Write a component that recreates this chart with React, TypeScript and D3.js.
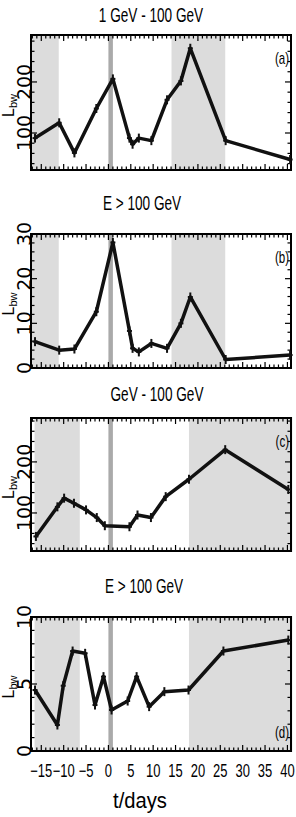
import React from 'react';
import * as d3 from 'd3';

// time of each observation (days)
const tAB = [-16.4, -11.0, -7.6, -2.7, 1.0, 4.7, 5.4, 6.8, 9.6, 13.1, 16.2, 18.3, 26.2, 40.6];
const tC = [-16.2, -11.4, -9.9, -7.7, -5.0, -2.6, -0.8, 4.7, 6.5, 9.5, 12.8, 18.0, 26.1, 40.2];
const tD = [-16.4, -11.4, -10.1, -8.0, -5.2, -3.0, -1.1, 0.7, 4.3, 6.3, 9.1, 12.5, 17.9, 25.7, 40.2];

// L_bw values
const lumA = [90, 120, 61, 148, 206, 90, 78, 90, 85, 165, 202, 266, 85, 48];
const lumB = [5.9, 4.0, 4.25, 12.6, 28.1, 8.3, 4.4, 3.6, 5.5, 4.4, 10.0, 15.9, 1.9, 2.9];
const lumC = [54, 112, 129, 119, 106, 91, 75, 73, 96, 91, 132, 166, 224, 146];
const lumD = [4.55, 1.94, 4.87, 7.46, 7.29, 3.43, 5.55, 3.06, 3.73, 5.55, 3.31, 4.43, 4.55, 7.46, 8.28];

// shaded intervals (days)
const bandsAB: [number, number][] = [[-17.3, -11.1], [14.1, 26.1]];
const bandsCD: [number, number][] = [[-16.5, -6.4], [18.0, 41.1]];
const flareBand: [number, number] = [0, 1];

const titles = ['1 GeV - 100 GeV', 'E > 100 GeV', 'GeV - 100 GeV', 'E > 100 GeV'];
const panelTags = ['(a)', '(b)', '(c)', '(d)'];
const xTickLabels = [-15, -10, -5, 0, 5, 10, 15, 20, 25, 30, 35, 40];

const W = 296;
const H = 817;
const sans = '"Liberation Sans", Arial, sans-serif';
const wide = '"DejaVu Sans", sans-serif';

const x = d3.scaleLinear().domain([-17.3, 40.8]).range([31, 291]);

type Panel = {
  top: number;
  bottom: number;
  domain: [number, number];
  major: number[];
  minor: number[];
  t: number[];
  v: number[];
  bands: [number, number][];
  title: string;
  titleX: number;
  titleY: number;
  tag: string;
  tagBottom: boolean;
};

const panels: Panel[] = [
  {
    top: 35, bottom: 170, domain: [27.5, 292], major: [100, 200], minor: d3.range(40, 291, 20),
    t: tAB, v: lumA, bands: bandsAB, title: titles[0], titleX: 151, titleY: 22, tag: panelTags[0], tagBottom: false,
  },
  {
    top: 234, bottom: 368, domain: [0, 30], major: [0, 10, 20, 30], minor: d3.range(0, 31, 2),
    t: tAB, v: lumB, bands: bandsAB, title: titles[1], titleX: 142, titleY: 210, tag: panelTags[1], tagBottom: false,
  },
  {
    top: 418, bottom: 551, domain: [25.5, 286], major: [100, 200], minor: d3.range(40, 281, 20),
    t: tC, v: lumC, bands: bandsCD, title: titles[2], titleX: 157, titleY: 401, tag: panelTags[2], tagBottom: false,
  },
  {
    top: 617, bottom: 751, domain: [0, 10], major: [0, 5, 10], minor: d3.range(0, 11, 1),
    t: tD, v: lumD, bands: bandsCD, title: titles[3], titleX: 144, titleY: 593, tag: panelTags[3], tagBottom: true,
  },
];

// condensed text: the original uses a narrow plotting font
function NText({ x, y, sx, size, anchor = 'middle', children }: {
  x: number; y: number; sx: number; size: number; anchor?: string; children: React.ReactNode;
}) {
  return (
    <text transform={`translate(${x},${y}) scale(${sx},1)`} textAnchor={anchor} fontFamily={sans} fontSize={size}>
      {children}
    </text>
  );
}

function PanelView({ p, showX }: { p: Panel; showX: boolean }) {
  const y = d3.scaleLinear().domain(p.domain).range([p.bottom, p.top]);
  const [x0, x1] = x.range();
  const line = d3
    .line<number>()
    .x((_, i) => x(p.t[i]))
    .y((d) => y(d));
  const xMinor = d3.range(-17, 41, 1);
  const midY = (p.top + p.bottom) / 2;
  return (
    <g>
      <NText x={p.titleX} y={p.titleY} sx={0.68} size={20}>
        {p.title}
      </NText>
      {p.bands.map(([a, b], i) => (
        <rect key={i} x={x(a)} y={p.top - 1} width={x(b) - x(a)} height={p.bottom - p.top + 2} fill="#dcdcdc" />
      ))}
      <rect x={x(flareBand[0])} y={p.top - 1} width={x(flareBand[1]) - x(flareBand[0])} height={p.bottom - p.top + 2} fill="#aaaaaa" />
      <g stroke="#000" strokeWidth={1.2}>
        {xMinor.map((t) => {
          const len = t % 5 === 0 ? 6 : 3.5;
          return (
            <g key={t}>
              <line x1={x(t)} x2={x(t)} y1={p.bottom} y2={p.bottom - len} />
              <line x1={x(t)} x2={x(t)} y1={p.top} y2={p.top + len} />
            </g>
          );
        })}
        {p.minor.map((v) => {
          const len = p.major.includes(v) ? 6 : 3.5;
          return (
            <g key={v}>
              <line x1={x0} x2={x0 + len} y1={y(v)} y2={y(v)} />
              <line x1={x1} x2={x1 - len} y1={y(v)} y2={y(v)} />
            </g>
          );
        })}
      </g>
      <rect x={x0} y={p.top} width={x1 - x0} height={p.bottom - p.top} fill="none" stroke="#000" strokeWidth={2} />
      <path d={line(p.v) ?? ''} fill="none" stroke="#111" strokeWidth={3.5} strokeLinejoin="round" />
      <g stroke="#111" strokeWidth={2}>
        {p.v.map((d, i) => (
          <g key={i}>
            <line x1={x(p.t[i])} x2={x(p.t[i])} y1={y(d) - 4.5} y2={y(d) + 4.5} />
            <line x1={x(p.t[i]) - 2.5} x2={x(p.t[i]) + 2.5} y1={y(d)} y2={y(d)} />
          </g>
        ))}
      </g>
      <NText x={289} y={p.tagBottom ? p.bottom - 13 : p.top + 29} sx={0.72} size={16} anchor="end">
        {p.tag}
      </NText>
      {p.major.map((v) => (
        <text
          key={v}
          transform={`translate(31,${y(v)}) rotate(-90)`}
          textAnchor="middle"
          fontFamily={wide}
          fontSize={19}
        >
          {v}
        </text>
      ))}
      <text transform={`translate(14,${midY + 3}) rotate(-90)`} textAnchor="middle" fontFamily={sans} fontSize={16}>
        L
        <tspan fontSize={11} dy={3}>
          bw
        </tspan>
      </text>
      {showX &&
        xTickLabels.map((t) => (
          <NText key={t} x={x(t)} y={777} sx={0.72} size={18}>
            {t < 0 ? `\u2212${-t}` : t}
          </NText>
        ))}
    </g>
  );
}

export default function App() {
  return (
    <svg width={W} height={H} style={{ position: 'absolute', left: 0, top: 0, background: '#fff' }}>
      <rect width={W} height={H} fill="#fff" />
      {panels.map((p, i) => (
        <PanelView key={i} p={p} showX={i === panels.length - 1} />
      ))}
      <NText x={140} y={808} sx={0.92} size={22}>
        t/days
      </NText>
    </svg>
  );
}
